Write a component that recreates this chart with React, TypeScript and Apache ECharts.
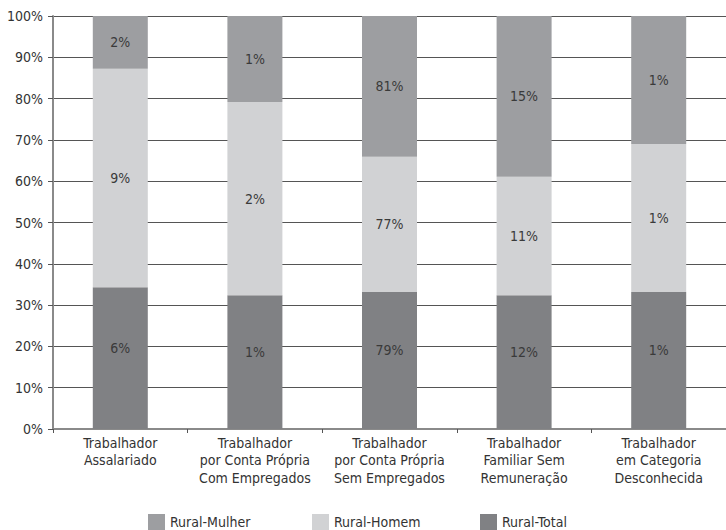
import React, { useEffect, useRef } from "react";
import * as echarts from "echarts";

const categories = [
  "Trabalhador\nAssalariado",
  "Trabalhador\npor Conta Própria\nCom Empregados",
  "Trabalhador\npor Conta Própria\nSem Empregados",
  "Trabalhador\nFamiliar Sem\nRemuneração",
  "Trabalhador\nem Categoria\nDesconhecida",
];
const totalShare = [34.3, 32.4, 33.2, 32.4, 33.2];
const homemShare = [52.9, 46.8, 32.7, 28.7, 35.8];
const mulherShare = [12.8, 20.8, 34.1, 38.9, 31.0];
const totalLabels = ["6%", "1%", "79%", "12%", "1%"];
const homemLabels = ["9%", "2%", "77%", "11%", "1%"];
const mulherLabels = ["2%", "1%", "81%", "15%", "1%"];
const yTicks = [0, 10, 20, 30, 40, 50, 60, 70, 80, 90, 100];

const FONT = "'DejaVu Sans Condensed', 'Liberation Sans Narrow', 'Roboto', sans-serif";

export default function App() {
  const ref = useRef<HTMLDivElement>(null);
  useEffect(() => {
    if (!ref.current) return;
    const chart = echarts.init(ref.current, null, { renderer: "svg" });
    const mkSeries = (name: string, data: number[], labels: string[], color: string, dy: number) => ({
      name,
      type: "bar",
      stack: "s",
      barWidth: 55,
      data,
      itemStyle: { color },
      label: {
        show: true,
        position: "inside",
        offset: [0, dy],
        color: "#3a3a3a",
        fontSize: 14,
        fontFamily: FONT,
        formatter: (p: any) => labels[p.dataIndex],
      },
    });
    const legendText = { color: "#333", fontSize: 14, fontFamily: FONT };
    const legendBase = { top: 514, itemWidth: 17, itemHeight: 16, icon: "rect", itemGap: 8, padding: 0, textStyle: legendText };
    chart.setOption({
      animation: false,
      textStyle: { fontFamily: FONT },
      grid: { left: 53, right: 0, top: 16, bottom: 101, containLabel: false },
      xAxis: {
        type: "category",
        data: categories,
        axisLine: { lineStyle: { color: "#8a8a8a", width: 2 } },
        axisTick: { show: true, length: 4, lineStyle: { color: "#555" } },
        axisLabel: { interval: 0, color: "#333", fontSize: 14, fontFamily: FONT, lineHeight: 17.5, margin: 5 },
      },
      yAxis: {
        type: "value",
        min: 0,
        max: 100,
        interval: 10,
        axisLine: { show: true, lineStyle: { color: "#8a8a8a", width: 2 } },
        axisTick: { show: true, length: 5, lineStyle: { color: "#555" } },
        splitLine: { lineStyle: { color: "#555", width: 1 } },
        axisLabel: {
          color: "#333",
          fontSize: 14,
          fontFamily: FONT,
          margin: 10,
          formatter: (v: number) => (yTicks.includes(v) ? v + "%" : ""),
        },
      },
      legend: [
        { ...legendBase, data: ["Rural-Mulher"], left: 148 },
        { ...legendBase, data: ["Rural-Homem"], left: 312 },
        { ...legendBase, data: ["Rural-Total"], left: 480 },
      ],
      series: [
        mkSeries("Rural-Total", totalShare, totalLabels, "#808184", -10),
        mkSeries("Rural-Homem", homemShare, homemLabels, "#d1d2d4", 0),
        mkSeries("Rural-Mulher", mulherShare, mulherLabels, "#9d9ea1", 0),
      ],
    });
    return () => chart.dispose();
  }, []);
  return <div ref={ref} style={{ width: 726, height: 530, position: "absolute", left: 0, top: 0 }} />;
}
